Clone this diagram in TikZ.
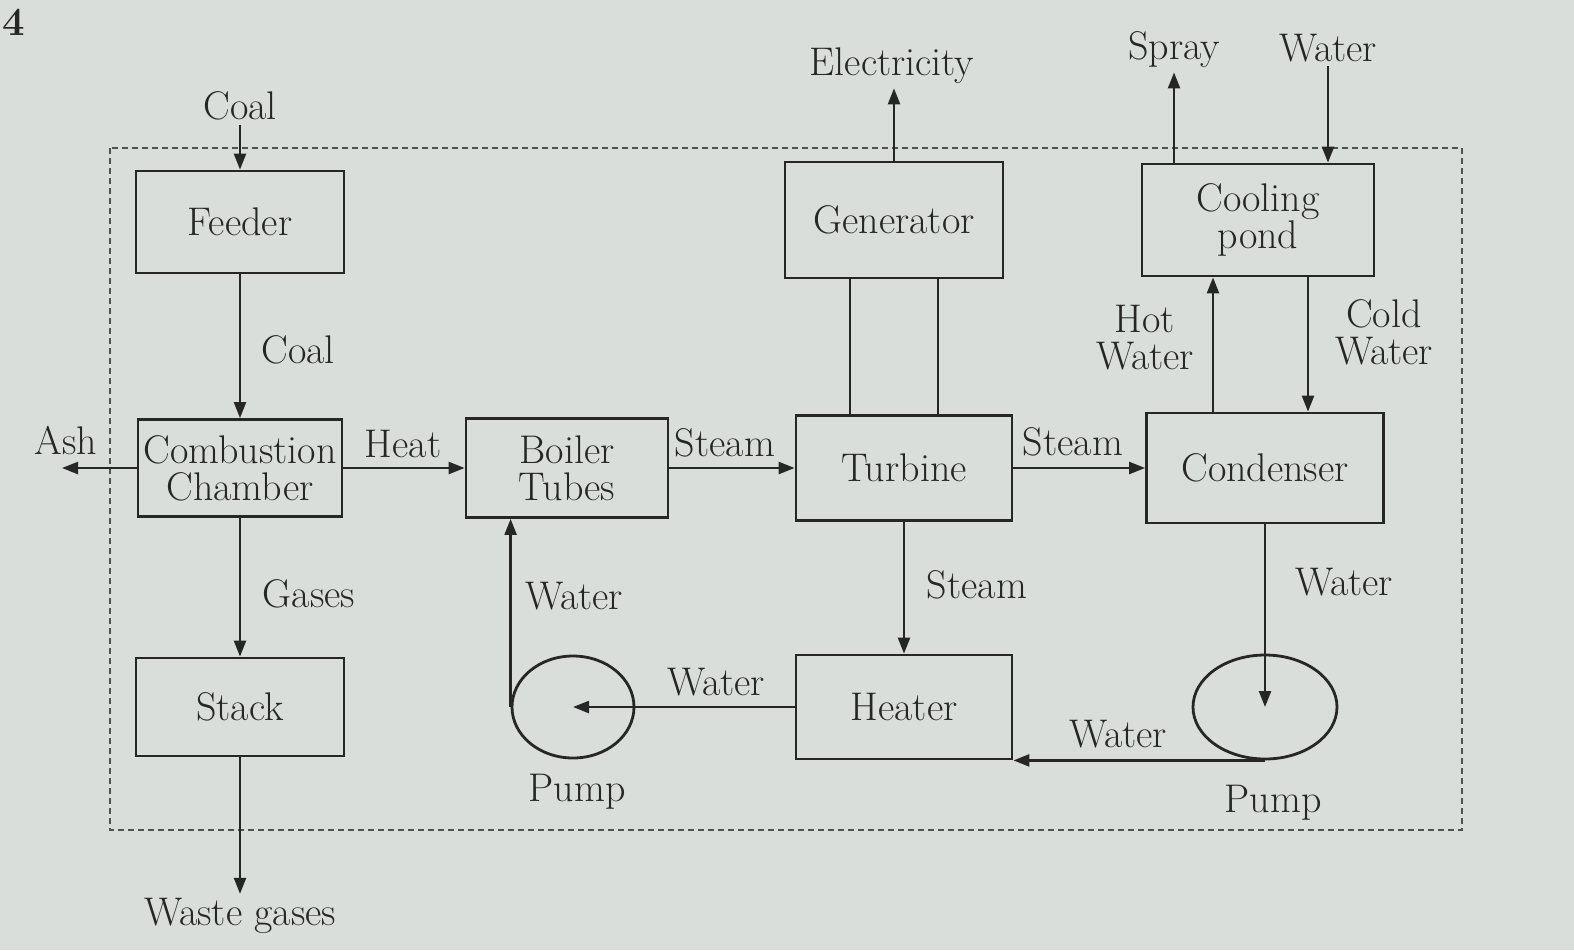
\documentclass[tikz,border=0pt]{standalone}
\usepackage{tikz}
\usetikzlibrary{arrows.meta,positioning,shapes.geometric,calc}
\definecolor{paper}{RGB}{218,222,219}
\definecolor{ink}{RGB}{38,38,38}

\begin{document}
\begin{tikzpicture}[
  x=0.5pt,y=-0.5pt,
  unit/.style={draw=ink, line width=1.4pt, align=center, minimum width=104pt, minimum height=51pt, inner sep=1pt, font=\fontsize{20}{18.5}\selectfont, text=ink},
  pump/.style={draw=ink, line width=1.4pt, ellipse, inner sep=0pt},
  lbl/.style={align=center, font=\fontsize{20}{18.5}\selectfont, text=ink, inner sep=2pt},
  arr/.style={-{Triangle[length=8pt,width=6pt]}, line width=1.2pt, draw=ink},
  link/.style={line width=1.2pt, draw=ink}
]
\fill[paper] (0,0) rectangle (1574,950);
\useasboundingbox (0,0) rectangle (1574,950);
\draw[ink!80, line width=0.8pt, densely dashed] (110,148) rectangle (1462,830);

% top row
\node[unit] (feeder) at (240,222) {Feeder};
\node[unit, minimum width=109pt, minimum height=58pt] (gen) at (894,220) {Generator};
\node[unit, minimum width=116pt, minimum height=56pt] (pond) at (1258,220) {Cooling\\pond};
% middle row
\node[unit, minimum width=102pt, minimum height=48.5pt] (comb) at (240,468) {Combustion\\Chamber};
\node[unit, minimum width=101pt, minimum height=49.5pt] (boiler) at (567,468) {Boiler\\Tubes};
\node[unit, minimum width=108pt, minimum height=52.5pt] (turb) at (904,468) {Turbine};
\node[unit, minimum width=118.5pt, minimum height=55pt] (cond) at (1265,468) {Condenser};
% bottom row
\node[unit, minimum height=49pt] (stack) at (240,707) {Stack};
\node[pump, minimum width=61pt, minimum height=51pt] (pumpA) at (573,707) {};
\node[unit, minimum width=108pt, minimum height=52pt] (heater) at (904,707) {Heater};
\node[pump, minimum width=72pt, minimum height=52pt] (pumpB) at (1265,707) {};

% labels
\node[lbl] (coal) at (240,106) {Coal};
\node[lbl] (coal2) at (298,350) {Coal};
\node[lbl] (ash) at (66,441) {Ash};
\node[lbl] (heat) at (403,444) {Heat};
\node[lbl] (gases) at (309,594) {Gases};
\node[lbl] (waste) at (240,916) {Waste gases};
\node[lbl] (st1) at (725,443) {Steam};
\node[lbl] (st2) at (1073,442) {Steam};
\node[lbl] (st3) at (977,585) {Steam};
\node[lbl] (w1) at (574,596) {Water};
\node[lbl] (w2) at (716,682) {Water};
\node[lbl] (w3) at (1344,582) {Water};
\node[lbl] (w4) at (1118,734) {Water};
\node[lbl] (p1) at (577,792) {Pump};
\node[lbl] (p2) at (1273,803) {Pump};
\node[lbl] (hot) at (1145,338) {Hot\\Water};
\node[lbl] (cold) at (1384,332) {Cold\\Water};
\node[lbl] (elec) at (892,66) {Electricity};
\node[lbl] (spray) at (1174,50) {Spray};
\node[lbl] (win) at (1328,48) {Water};
\node[lbl, font=\bfseries\fontsize{20}{18.5}\selectfont] (pg) at (14,22) {4};

\coordinate (ashend) at (62,468);
\coordinate (g1) at ($(gen.south)+(-44,0)$);
\coordinate (g2) at ($(gen.south)+(44,0)$);
\coordinate (hw) at (1213,0);
\coordinate (cw) at (1308,0);

% coal and gas line
\draw[arr] (coal.south) -- (feeder.north);
\draw[arr] (feeder) -- (comb);
\draw[arr] (comb.west) -- (ashend);
\draw[arr] (comb) -- (stack);
\draw[arr] (stack.south) -- (waste.north);
% steam loop
\draw[arr] (comb) -- (boiler);
\draw[arr] (boiler) -- (turb);
\draw[arr] (turb) -- (cond);
\draw[link] (g1) -- (g1 |- turb.north);
\draw[link] (g2) -- (g2 |- turb.north);
\draw[arr] (gen.north) -- (gen.north |- elec.south);
\draw[arr] (turb) -- (heater);
\draw[arr] (heater) -- (pumpA.center);
\draw[arr] (pumpA.west) -- (pumpA.west |- boiler.south);
% cooling water
\draw[arr] (pond.north -| spray) -- (spray.south);
\draw[arr] (win.south) -- (win.south |- pond.north);
\draw[arr] (hw |- cond.north) -- (hw |- pond.south);
\draw[arr] (cw |- pond.south) -- (cw |- cond.north);
\draw[arr] (cond) -- (pumpB.center);
\draw[arr] (pumpB.south) -- (pumpB.south -| heater.east);
\end{tikzpicture}
\end{document}
